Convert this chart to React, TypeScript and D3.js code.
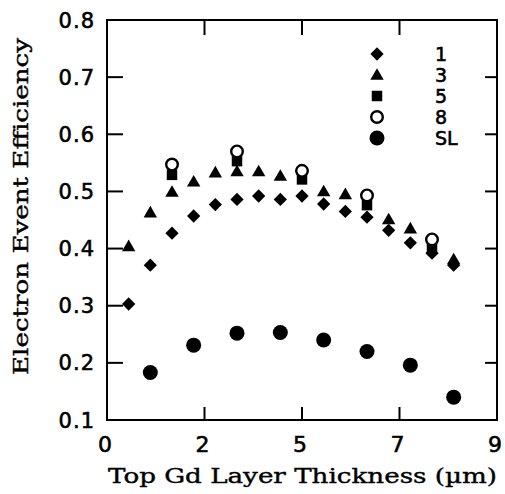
import React from "react";
import * as d3 from "d3";

const xTicks = [0, 2.25, 4.5, 6.75, 9];
const xTickLabels = ["0", "2", "5", "7", "9"];
const yTicks = [0.1, 0.2, 0.3, 0.4, 0.5, 0.6, 0.7, 0.8];

const x1 = [0.5, 1, 1.5, 2, 2.5, 3, 3.5, 4, 4.5, 5, 5.5, 6, 6.5, 7, 7.5, 8];
const y1 = [0.303, 0.371, 0.427, 0.457, 0.477, 0.486, 0.492, 0.486, 0.492, 0.478, 0.465, 0.455, 0.432, 0.41, 0.392, 0.371];

const x3 = [0.5, 1, 1.5, 2, 2.5, 3, 3.5, 4, 5, 5.5, 6.5, 7, 8];
const y3 = [0.404, 0.463, 0.499, 0.517, 0.533, 0.535, 0.535, 0.527, 0.5, 0.495, 0.451, 0.435, 0.381];

const x5 = [1.5, 3, 4.5, 6, 7.5];
const y5 = [0.529, 0.553, 0.521, 0.476, 0.4];

const x8 = [1.5, 3, 4.5, 6, 7.5];
const y8 = [0.547, 0.57, 0.536, 0.493, 0.416];

const xSL = [1, 2, 3, 4, 5, 6, 7, 8];
const ySL = [0.183, 0.231, 0.252, 0.253, 0.24, 0.22, 0.196, 0.14];

const legendLabels = ["1", "3", "5", "8", "SL"];

const L = 107, R = 497, T = 20, B = 420;

export default function App() {
  const xs = d3.scaleLinear().domain([0, 9]).range([L, R]);
  const ys = d3.scaleLinear().domain([0.1, 0.8]).range([B, T]);

  const diamond = d3.symbol().type(d3.symbolSquare).size(88)()!;
  const triangle = d3.symbol().type(d3.symbolTriangle).size(78)()!;
  const square = d3.symbol().type(d3.symbolSquare).size(110)()!;

  const sans = "'DejaVu Sans', sans-serif";
  const serif = "'DejaVu Serif', serif";
  const thick = { stroke: "#000", strokeWidth: 0.6 };

  const drawShape = (kind: string, cx: number, cy: number, key: string) => {
    if (kind === "d")
      return <path key={key} d={diamond} transform={`translate(${cx},${cy}) rotate(45)`} fill="#000" />;
    if (kind === "t")
      return <path key={key} d={triangle} transform={`translate(${cx},${cy + 1})`} fill="#000" />;
    if (kind === "s")
      return <path key={key} d={square} transform={`translate(${cx},${cy})`} fill="#000" />;
    if (kind === "o")
      return <circle key={key} cx={cx} cy={cy} r={5.8} fill="#fff" stroke="#000" strokeWidth={2.4} />;
    return <circle key={key} cx={cx} cy={cy} r={7.5} fill="#000" />;
  };

  const series: [string, number[], number[]][] = [
    ["d", x1, y1],
    ["t", x3, y3],
    ["s", x5, y5],
    ["o", x8, y8],
    ["f", xSL, ySL],
  ];
  const legendKinds = ["d", "t", "s", "o", "f"];

  return (
    <svg width={505} height={494} style={{ position: "absolute", left: 0, top: 0, background: "#fff" }}>
      <rect x={0} y={0} width={505} height={494} fill="#fff" />
      {/* frame */}
      <rect x={L} y={T} width={R - L} height={B - T} fill="none" stroke="#000" strokeWidth={2} />
      {/* y ticks */}
      {yTicks.map((v) => (
        <g key={"yt" + v}>
          <line x1={L} x2={L + 16} y1={ys(v)} y2={ys(v)} stroke="#000" strokeWidth={2} />
          <line x1={R - 12} x2={R} y1={ys(v)} y2={ys(v)} stroke="#000" strokeWidth={2} />
          <text x={95} y={ys(v)} dy="0.36em" textAnchor="end" fontFamily={sans} fontSize={21} letterSpacing={1} {...thick}>
            {v.toFixed(1)}
          </text>
        </g>
      ))}
      {/* x ticks */}
      {xTicks.map((v, i) => (
        <g key={"xt" + v}>
          <line x1={xs(v)} x2={xs(v)} y1={T} y2={T + 15} stroke="#000" strokeWidth={2} />
          <line x1={xs(v)} x2={xs(v)} y1={B - 13} y2={B} stroke="#000" strokeWidth={2} />
          <text x={xs(v) - 2} y={452} textAnchor="middle" fontFamily={sans} fontSize={22} {...thick}>
            {xTickLabels[i]}
          </text>
        </g>
      ))}
      {/* data */}
      {series.map(([k, xv, yv]) =>
        xv.map((xx, i) => drawShape(k, xs(xx), ys(yv[i]), k + i))
      )}
      {/* legend */}
      {legendLabels.map((lab, i) => (
        <g key={"lg" + i}>
          {drawShape(legendKinds[i], 377, 54 + i * 21, "lgs" + i)}
          <text x={435} y={54 + i * 21} dy="0.36em" fontFamily={sans} fontSize={19} {...thick}>
            {lab}
          </text>
        </g>
      ))}
      {/* axis titles */}
      <text x={108} y={483} fontFamily={serif} fontSize={21} textLength={389} lengthAdjust="spacingAndGlyphs" stroke="#000" strokeWidth={0.4}>
        Top Gd Layer Thickness (µm)
      </text>
      <text
        transform={`translate(28,${375}) rotate(-90)`}
        fontFamily={serif}
        fontSize={21}
        textLength={337}
        lengthAdjust="spacingAndGlyphs"
        stroke="#000"
        strokeWidth={0.4}
      >
        Electron Event Efficiency
      </text>
    </svg>
  );
}
